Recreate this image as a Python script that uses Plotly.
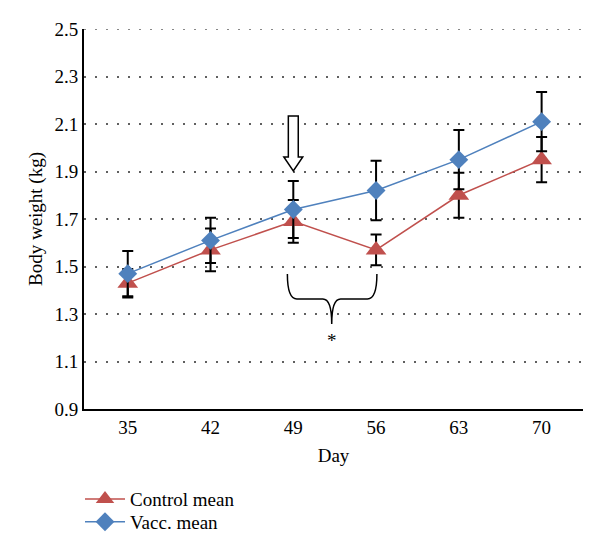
import plotly.graph_objects as go

days = [35, 42, 49, 56, 63, 70]
control_mean = [1.43, 1.57, 1.69, 1.57, 1.80, 1.95]
control_err = [0.06, 0.09, 0.09, 0.065, 0.095, 0.095]
vacc_mean = [1.47, 1.61, 1.74, 1.82, 1.95, 2.11]
vacc_err = [0.095, 0.095, 0.12, 0.125, 0.125, 0.125]
y_ticks = [0.9, 1.1, 1.3, 1.5, 1.7, 1.9, 2.1, 2.3, 2.5]

RED = "#C0504D"
BLUE = "#4F81BD"
FONT = "Liberation Serif"
GRID = "#606060"

fig = go.Figure()
fig.add_trace(go.Scatter(
    x=days, y=control_mean, name="Control mean", mode="lines+markers",
    line=dict(color=RED, width=1.5),
    marker=dict(symbol="triangle-up", size=18, color=RED),
    error_y=dict(type="data", array=control_err, color="black", thickness=2, width=5.5),
    legend="legend",
))
fig.add_trace(go.Scatter(
    x=days, y=vacc_mean, name="Vacc. mean", mode="lines+markers",
    line=dict(color=BLUE, width=1.5),
    marker=dict(symbol="diamond", size=14.5, color=BLUE),
    error_y=dict(type="data", array=vacc_err, color="black", thickness=2, width=5.5),
    legend="legend2",
))

# top dotted gridline (at the range edge)
fig.add_shape(type="line", xref="paper", yref="y", x0=0, x1=1,
              y0=y_ticks[-1], y1=y_ticks[-1], layer="below",
              line=dict(color=GRID, width=1.5, dash="2px,9px"))

# hollow arrow above day 49
ax = 49
hw_shaft, hw_head = 0.42, 0.8
y_top, y_base, y_tip = 2.134, 1.961, 1.902
arrow_path = (f"M {ax-hw_shaft},{y_top} L {ax+hw_shaft},{y_top} L {ax+hw_shaft},{y_base} "
              f"L {ax+hw_head},{y_base} L {ax},{y_tip} L {ax-hw_head},{y_base} "
              f"L {ax-hw_shaft},{y_base} Z")
fig.add_shape(type="path", path=arrow_path, xref="x", yref="y",
              line=dict(color="black", width=1.5), fillcolor="white")

# curly brace between day 49 and 56
bl, br, bm = 48.5, 56.07, 52.25
bt, bh, bp = 1.468, 1.363, 1.258
brace_path = (f"M {bl},{bt} Q {bl},{bh} {bl+0.8},{bh} L {bm-0.75},{bh} "
              f"Q {bm},{bh} {bm},{bp} Q {bm},{bh} {bm+0.75},{bh} "
              f"L {br-0.8},{bh} Q {br},{bh} {br},{bt}")
fig.add_shape(type="path", path=brace_path, xref="x", yref="y",
              line=dict(color="black", width=1.5))
fig.add_annotation(x=bm, y=1.19, text="*", showarrow=False,
                   font=dict(family=FONT, size=19, color="#000000"))

legend_common = dict(xanchor="left", yanchor="middle", itemwidth=40,
                     font=dict(family=FONT, size=19), bgcolor="rgba(0,0,0,0)")
fig.update_layout(
    width=600, height=557,
    margin=dict(l=84, r=17, t=29, b=148),
    paper_bgcolor="white", plot_bgcolor="white",
    font=dict(family=FONT, size=19, color="black"),
    showlegend=True,
    legend=dict(x=-0.008, y=-0.237, **legend_common),
    legend2=dict(x=-0.008, y=-0.297, **legend_common),
)
fig.update_xaxes(
    range=[31.3, 73.5], tickvals=days, ticktext=[str(d) for d in days],
    showgrid=False, zeroline=False, showline=True, linecolor="black", linewidth=2,
    ticks="", automargin=False,
    title=dict(text="Day", font=dict(size=19), standoff=12),
    tickfont=dict(size=19),
)
fig.update_yaxes(
    range=[0.9, 2.5], tickvals=y_ticks, ticktext=[f"{v:.1f}" for v in y_ticks],
    showgrid=True, gridcolor=GRID, gridwidth=1.5, griddash="2px,9px",
    zeroline=False, showline=True, linecolor="black", linewidth=2,
    ticks="", automargin=False,
    title=dict(text="Body weight (kg)", font=dict(size=19), standoff=7),
    tickfont=dict(size=19),
)

fig.write_html("out.html", post_script="document.body.style.margin='0';",
               config={"displayModeBar": False})
